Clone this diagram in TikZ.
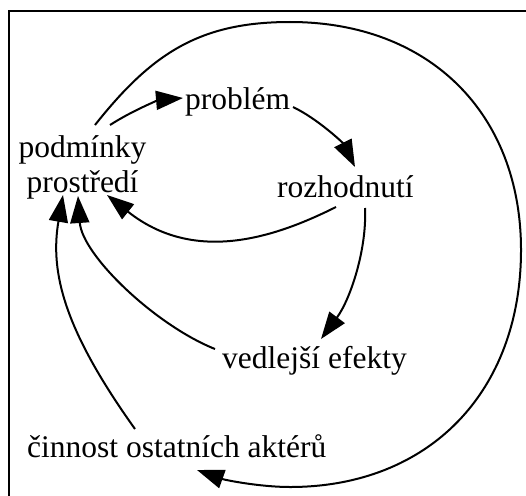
\documentclass[tikz,border=0pt]{standalone}
\usepackage{fontspec}
\setmainfont{Liberation Serif}
\usetikzlibrary{arrows.meta}
\begin{document}
\begin{tikzpicture}[x=1pt,y=-1pt,
  lbl/.style={inner sep=0pt,font=\fontsize{31.5}{35}\selectfont},
  conn/.style={line width=2pt,-{Triangle[length=27pt,width=19pt]}},
  framestyle/.style={line width=1.6pt}]
\useasboundingbox (0,0) rectangle (526,495);
\fill[white] (0,0) rectangle (526,495);
\draw[framestyle] (9,500) -- (9,11) -- (530,11);
% nodes
\node[lbl,anchor=base west] (prob) at (185,109) {problém};
\node[lbl,align=center] (pod) at (82.5,167) {podmínky\\prostředí};
\node[lbl,anchor=base west] (rozh) at (277,197) {rozhodnutí};
\node[lbl,anchor=base west] (vedl) at (222,368) {vedlejší efekty};
\node[lbl,anchor=base west] (cinn) at (27,457) {činnost ostatních aktérů};
% connectors
\draw[conn] ([shift={(27.5,-42)}]pod.center) .. controls +(25,-16) and +(-23,2) .. ([shift={(-2,-11)}]prob.base west);
\draw[conn] ([shift={(108,-2)}]prob.base west) .. controls +(25,12) and +(-12,-24) .. ([shift={(78,-30)}]rozh.base west);
\draw[conn] ([shift={(59,10)}]rozh.base west) .. controls +(-60,30) and +(88,70) .. ([shift={(24.5,28)}]pod.center);
\draw[conn] ([shift={(88,11)}]rozh.base west) .. controls +(2,42) and +(29,-39) .. ([shift={(99,-29)}]vedl.base west);
\draw[conn] ([shift={(-7,-19)}]vedl.base west) .. controls +(-60,-24) and +(4,59) .. ([shift={(-4.5,29)}]pod.center);
\draw[conn] ([shift={(108,-28)}]cinn.base west) .. controls +(-70,-98) and +(-13.5,78) .. ([shift={(-19.5,28)}]pod.center);
\draw[conn] ([shift={(12.5,-42)}]pod.center) .. controls +(57,-72) and +(-90,0) .. (290,22)
  .. controls (429,22) and (521,113) .. (521,250)
  .. controls (521,392) and (429,487) .. (290,487)
  .. controls +(-30,0) and +(28,10) .. ([shift={(170,13)}]cinn.base west);
\end{tikzpicture}
\end{document}
